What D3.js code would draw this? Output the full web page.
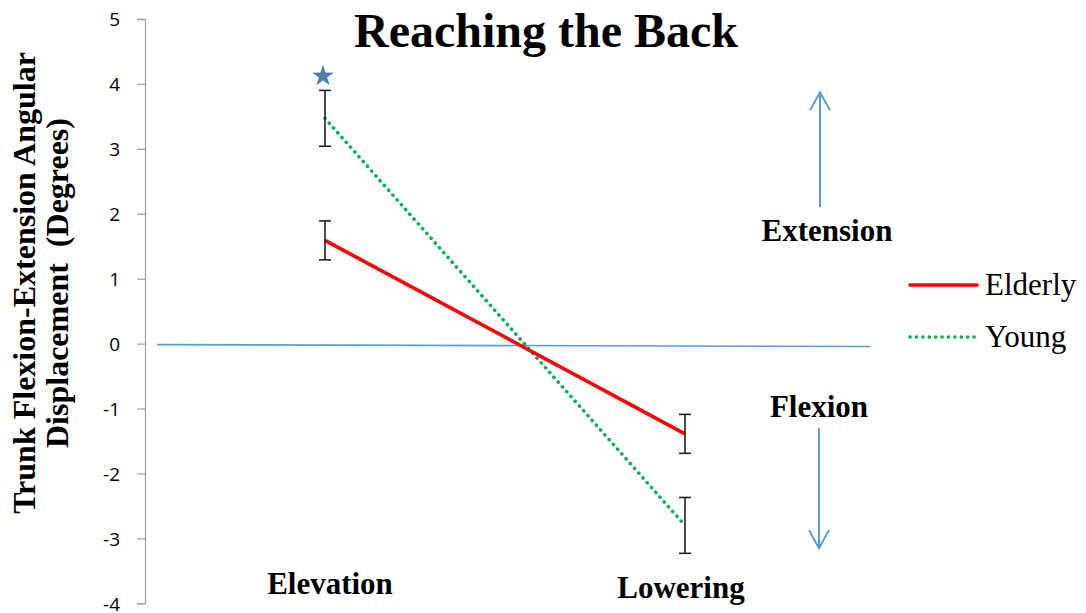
<!DOCTYPE html>
<html>
<head>
<meta charset="utf-8">
<script src="https://cdn.jsdelivr.net/npm/d3@7"></script>
<style>
  html, body { margin: 0; padding: 0; background: #fff; }
  svg { display: block; }
</style>
</head>
<body>
<svg id="chart" width="1086" height="613"></svg>
<script>
// Trunk flexion-extension angular displacement while reaching the back
const categories = ["Elevation", "Lowering"];
const seriesNames = ["Elderly", "Young"];
const elderlyValues = [1.59, -1.39];
const youngValues = [3.47, -2.80];
const elderlyErrors = [0.30, 0.30];
const youngErrors = [0.43, 0.43];
const yTicks = [-4, -3, -2, -1, 0, 1, 2, 3, 4, 5];
const starValue = 4.12; // significance marker above the Young elevation mean

const svg = d3.select("#chart");

const y = d3.scaleLinear().domain([-4, 5]).range([603.3, 19]);
const x = d3.scalePoint().domain(categories).range([145, 865]).padding(0.5);

const serif = "'Liberation Serif', 'Times New Roman', serif";

// Y axis with outward ticks on the left
const yAxis = d3.axisLeft(y).tickValues(yTicks).tickSize(8).tickPadding(17).tickFormat(d3.format("d"));
const gy = svg.append("g").attr("transform", "translate(145,0)").call(yAxis);
gy.select(".domain").attr("stroke", "#a6a6a6").attr("stroke-width", 1.3);
gy.selectAll(".tick line").attr("stroke", "#a6a6a6").attr("stroke-width", 1.3);
gy.selectAll(".tick text")
  .attr("font-family", "'Open Sans', 'Liberation Sans', sans-serif")
  .attr("font-size", 19).attr("fill", "#000")
  .attr("dy", "0.36em")
  .text(d => d < 0 ? "-" + Math.abs(d) : d);

// Zero reference line
svg.append("line")
  .attr("x1", 157).attr("x2", 870)
  .attr("y1", y(0) + 1).attr("y2", y(-0.03) + 1)
  .attr("stroke", "#5b9bd5").attr("stroke-width", 1.6);

// Series lines
const line = d3.line().x((d, i) => x(categories[i])).y(d => y(d));

svg.append("path").datum(youngValues)
  .attr("d", line).attr("fill", "none")
  .attr("stroke", "#00b050").attr("stroke-width", 3.6)
  .attr("stroke-linecap", "round").attr("stroke-dasharray", "0.1 6.3");

svg.append("path").datum(elderlyValues)
  .attr("d", line).attr("fill", "none")
  .attr("stroke", "#ff0000").attr("stroke-width", 3.6);

// Error bars
function errorBars(values, errs) {
  const g = svg.append("g").attr("stroke", "#222").attr("stroke-width", 1.6);
  values.forEach((v, i) => {
    const cx = x(categories[i]);
    const top = y(v + errs[i]), bot = y(v - errs[i]);
    g.append("line").attr("x1", cx).attr("x2", cx).attr("y1", top).attr("y2", bot);
    g.append("line").attr("x1", cx - 6).attr("x2", cx + 6).attr("y1", top).attr("y2", top);
    g.append("line").attr("x1", cx - 6).attr("x2", cx + 6).attr("y1", bot).attr("y2", bot);
  });
}
errorBars(elderlyValues, elderlyErrors);
errorBars(youngValues, youngErrors);

// Significance star
svg.append("path")
  .attr("d", d3.symbol().type(d3.symbolStar).size(120)())
  .attr("transform", `translate(${x(categories[0]) - 2},${y(starValue)})`)
  .attr("fill", "#4f7eb3").attr("stroke", "#3d6a9e").attr("stroke-width", 0.6);

// Title
svg.append("text").attr("x", 546).attr("y", 47)
  .attr("text-anchor", "middle").attr("font-family", serif)
  .attr("font-weight", "bold").attr("font-size", 48)
  .text("Reaching the Back");

// Y axis title (two lines, rotated)
const yt = svg.append("text")
  .attr("transform", "translate(0,283) rotate(-90)")
  .attr("text-anchor", "middle").attr("font-family", serif)
  .attr("font-weight", "bold").attr("font-size", 32)
  .style("white-space", "pre");
yt.append("tspan").attr("x", 0).attr("y", 35).text("Trunk Flexion-Extension Angular");
yt.append("tspan").attr("x", 0).attr("y", 68).text("Displacement \u00a0(Degrees)");

// Category labels
const catBaseline = [594, 598];
const catOffset = [5, -4];
categories.forEach((c, i) => {
  svg.append("text").attr("x", x(c) + catOffset[i]).attr("y", catBaseline[i])
    .attr("text-anchor", "middle").attr("font-family", serif)
    .attr("font-weight", "bold").attr("font-size", 31).text(c);
});

// Direction annotations with arrows
function arrow(xp, y1, y2) {
  const g = svg.append("g").attr("stroke", "#5b9bd5").attr("stroke-width", 2).attr("fill", "none");
  g.append("line").attr("x1", xp).attr("x2", xp).attr("y1", y1).attr("y2", y2);
  const dir = y2 < y1 ? 1 : -1;
  g.append("path").attr("d", `M${xp - 10},${y2 + dir * 18} L${xp},${y2} L${xp + 10},${y2 + dir * 18}`);
}
arrow(820, y(2.1), y(3.87));
arrow(819, y(-1.3), y(-3.15));

svg.append("text").attr("x", 827).attr("y", 241)
  .attr("text-anchor", "middle").attr("font-family", serif)
  .attr("font-weight", "bold").attr("font-size", 31).text("Extension");
svg.append("text").attr("x", 819).attr("y", 417)
  .attr("text-anchor", "middle").attr("font-family", serif)
  .attr("font-weight", "bold").attr("font-size", 31).text("Flexion");

// Legend
const legend = svg.append("g").attr("transform", "translate(909,0)");
const legendY = [285, 337];
const legendStyle = [
  { stroke: "#ff0000", dash: null },
  { stroke: "#00b050", dash: "0.1 6.3" }
];
seriesNames.forEach((name, i) => {
  const s = legendStyle[i];
  legend.append("line").attr("x1", 1).attr("x2", 68)
    .attr("y1", legendY[i]).attr("y2", legendY[i])
    .attr("stroke", s.stroke).attr("stroke-width", 3.6)
    .attr("stroke-linecap", "round")
    .attr("stroke-dasharray", s.dash);
  legend.append("text").attr("x", 76).attr("y", legendY[i] + 10)
    .attr("font-family", serif).attr("font-size", 31).text(name);
});
</script>
</body>
</html>
